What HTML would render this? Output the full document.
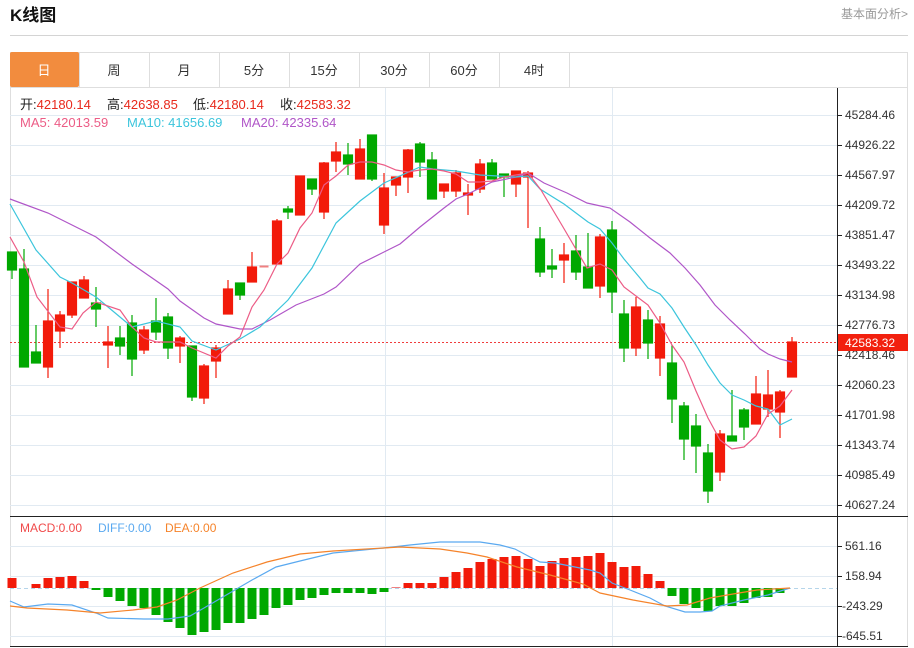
<!DOCTYPE html>
<html><head><meta charset="utf-8"><style>
body{margin:0;background:#fff;width:914px;height:648px;overflow:hidden;font-family:"Liberation Sans","Noto Sans CJK SC",sans-serif}
</style></head><body>
<svg width="914" height="648" xmlns="http://www.w3.org/2000/svg" style="position:absolute;left:0;top:0" font-family="Liberation Sans, Noto Sans CJK SC, sans-serif">
<text x="10" y="21" font-size="17" font-weight="bold" fill="#111">K线图</text>
<text x="908" y="18" font-size="12" fill="#999" text-anchor="end">基本面分析&gt;</text>
<line x1="10" y1="35.5" x2="908" y2="35.5" stroke="#d4d4d4"/>
<rect x="10.5" y="52.5" width="897" height="35" fill="#fff" stroke="#dedede"/>
<rect x="10" y="52" width="69" height="35" fill="#f28c3e" rx="2"/>
<g stroke="#dedede"><line x1="79.5" y1="52" x2="79.5" y2="87"/><line x1="149.5" y1="52" x2="149.5" y2="87"/><line x1="219.5" y1="52" x2="219.5" y2="87"/><line x1="289.5" y1="52" x2="289.5" y2="87"/><line x1="359.5" y1="52" x2="359.5" y2="87"/><line x1="429.5" y1="52" x2="429.5" y2="87"/><line x1="499.5" y1="52" x2="499.5" y2="87"/><line x1="569.5" y1="52" x2="569.5" y2="87"/></g>
<g font-size="13" text-anchor="middle" fill="#333"><text x="44" y="75" fill="#fff">日</text><text x="114" y="75">周</text><text x="184" y="75">月</text><text x="254" y="75">5分</text><text x="324" y="75">15分</text><text x="394" y="75">30分</text><text x="464" y="75">60分</text><text x="534" y="75">4时</text></g>
<line x1="10.5" y1="88" x2="10.5" y2="646" stroke="#dedede"/>
<line x1="907.5" y1="88" x2="907.5" y2="646" stroke="#dedede"/>
<g stroke="#e1eaf2">
<line x1="10" y1="115.5" x2="837" y2="115.5"/><line x1="10" y1="145.5" x2="837" y2="145.5"/><line x1="10" y1="175.5" x2="837" y2="175.5"/><line x1="10" y1="205.5" x2="837" y2="205.5"/><line x1="10" y1="235.5" x2="837" y2="235.5"/><line x1="10" y1="265.5" x2="837" y2="265.5"/><line x1="10" y1="295.5" x2="837" y2="295.5"/><line x1="10" y1="325.5" x2="837" y2="325.5"/><line x1="10" y1="355.5" x2="837" y2="355.5"/><line x1="10" y1="385.5" x2="837" y2="385.5"/><line x1="10" y1="415.5" x2="837" y2="415.5"/><line x1="10" y1="445.5" x2="837" y2="445.5"/><line x1="10" y1="475.5" x2="837" y2="475.5"/><line x1="10" y1="505.5" x2="837" y2="505.5"/>
<line x1="10" y1="546.5" x2="837" y2="546.5"/><line x1="10" y1="576.5" x2="837" y2="576.5"/><line x1="10" y1="606.5" x2="837" y2="606.5"/><line x1="10" y1="636.5" x2="837" y2="636.5"/>
<line x1="385.5" y1="88" x2="385.5" y2="646"/><line x1="612.5" y1="88" x2="612.5" y2="646"/>
</g>
<line x1="837.5" y1="88" x2="837.5" y2="646" stroke="#222"/>
<line x1="10" y1="516.5" x2="908" y2="516.5" stroke="#222"/>
<line x1="10" y1="646.5" x2="908" y2="646.5" stroke="#222"/>
<g font-size="12" fill="#333">
<text x="845" y="119">45284.46</text><text x="845" y="149">44926.22</text><text x="845" y="179">44567.97</text><text x="845" y="209">44209.72</text><text x="845" y="239">43851.47</text><text x="845" y="269">43493.22</text><text x="845" y="299">43134.98</text><text x="845" y="329">42776.73</text><text x="845" y="359">42418.46</text><text x="845" y="389">42060.23</text><text x="845" y="419">41701.98</text><text x="845" y="449">41343.74</text><text x="845" y="479">40985.49</text><text x="845" y="509">40627.24</text>
<text x="845" y="550">561.16</text><text x="845" y="580">158.94</text><text x="842" y="610">-243.29</text><text x="842" y="640">-645.51</text>
</g>
<g stroke="#222"><line x1="837" y1="115.5" x2="842" y2="115.5"/><line x1="837" y1="145.5" x2="842" y2="145.5"/><line x1="837" y1="175.5" x2="842" y2="175.5"/><line x1="837" y1="205.5" x2="842" y2="205.5"/><line x1="837" y1="235.5" x2="842" y2="235.5"/><line x1="837" y1="265.5" x2="842" y2="265.5"/><line x1="837" y1="295.5" x2="842" y2="295.5"/><line x1="837" y1="325.5" x2="842" y2="325.5"/><line x1="837" y1="355.5" x2="842" y2="355.5"/><line x1="837" y1="385.5" x2="842" y2="385.5"/><line x1="837" y1="415.5" x2="842" y2="415.5"/><line x1="837" y1="445.5" x2="842" y2="445.5"/><line x1="837" y1="475.5" x2="842" y2="475.5"/><line x1="837" y1="505.5" x2="842" y2="505.5"/><line x1="837" y1="546.5" x2="842" y2="546.5"/><line x1="837" y1="576.5" x2="842" y2="576.5"/><line x1="837" y1="606.5" x2="842" y2="606.5"/><line x1="837" y1="636.5" x2="842" y2="636.5"/></g>
<g font-size="13">
<text x="20" y="109" fill="#222">开:<tspan fill="#e8291c">42180.14</tspan></text>
<text x="107" y="109" fill="#222">高:<tspan fill="#e8291c">42638.85</tspan></text>
<text x="193" y="109" fill="#222">低:<tspan fill="#e8291c">42180.14</tspan></text>
<text x="280" y="109" fill="#222">收:<tspan fill="#e8291c">42583.32</tspan></text>
<text x="20" y="127" fill="#ec5c86">MA5: 42013.59</text><text x="127" y="127" fill="#3cc5dc">MA10: 41656.69</text><text x="241" y="127" fill="#b056c8">MA20: 42335.64</text>
<text x="20" y="532" font-size="12" fill="#f04a4a">MACD:0.00</text><text x="98" y="532" font-size="12" fill="#5aa9f0">DIFF:0.00</text><text x="165" y="532" font-size="12" fill="#f5832a">DEA:0.00</text>
</g>
<line x1="10" y1="342.5" x2="837" y2="342.5" stroke="#f03c3c" stroke-dasharray="2,2"/>
<rect x="838" y="334" width="70" height="17" fill="#f2200e"/>
<text x="845" y="347" font-size="12" fill="#fff">42583.32</text>
<g stroke-width="1.2">
<g stroke="#00a800" fill="#00a800">
<line x1="12" y1="252" x2="12" y2="279"/><rect x="7.5" y="252" width="9" height="18"/>
<line x1="24" y1="249" x2="24" y2="367"/><rect x="19.5" y="269" width="9" height="98"/>
<line x1="36" y1="325" x2="36" y2="363"/><rect x="31.5" y="352" width="9" height="11"/>
<line x1="96" y1="287" x2="96" y2="327"/><rect x="91.5" y="303" width="9" height="6"/>
<line x1="120" y1="326" x2="120" y2="355"/><rect x="115.5" y="338" width="9" height="8"/>
<line x1="132" y1="315" x2="132" y2="376"/><rect x="127.5" y="323" width="9" height="36"/>
<line x1="156" y1="298" x2="156" y2="340"/><rect x="151.5" y="321" width="9" height="11"/>
<line x1="168" y1="313" x2="168" y2="359"/><rect x="163.5" y="317" width="9" height="31"/>
<line x1="192" y1="346" x2="192" y2="401"/><rect x="187.5" y="346" width="9" height="51"/>
<line x1="240" y1="283" x2="240" y2="300"/><rect x="235.5" y="283" width="9" height="12"/>
<line x1="288" y1="206" x2="288" y2="219"/><rect x="283.5" y="209" width="9" height="3"/>
<line x1="312" y1="179" x2="312" y2="195"/><rect x="307.5" y="179" width="9" height="10"/>
<line x1="348" y1="143" x2="348" y2="175"/><rect x="343.5" y="155" width="9" height="9"/>
<line x1="372" y1="135" x2="372" y2="181"/><rect x="367.5" y="135" width="9" height="44"/>
<line x1="420" y1="142" x2="420" y2="177"/><rect x="415.5" y="144" width="9" height="18"/>
<line x1="432" y1="152" x2="432" y2="199"/><rect x="427.5" y="160" width="9" height="39"/>
<line x1="492" y1="159" x2="492" y2="179"/><rect x="487.5" y="163" width="9" height="16"/>
<line x1="504" y1="174" x2="504" y2="197"/><rect x="499.5" y="174" width="9" height="3"/>
<line x1="540" y1="227" x2="540" y2="277"/><rect x="535.5" y="239" width="9" height="33"/>
<line x1="552" y1="249" x2="552" y2="278"/><rect x="547.5" y="266" width="9" height="3"/>
<line x1="576" y1="235" x2="576" y2="280"/><rect x="571.5" y="251" width="9" height="21"/>
<line x1="588" y1="233" x2="588" y2="288"/><rect x="583.5" y="267" width="9" height="21"/>
<line x1="612" y1="221" x2="612" y2="313"/><rect x="607.5" y="230" width="9" height="62"/>
<line x1="624" y1="300" x2="624" y2="362"/><rect x="619.5" y="314" width="9" height="34"/>
<line x1="648" y1="310" x2="648" y2="359"/><rect x="643.5" y="320" width="9" height="23"/>
<line x1="672" y1="345" x2="672" y2="423"/><rect x="667.5" y="363" width="9" height="36"/>
<line x1="684" y1="402" x2="684" y2="460"/><rect x="679.5" y="406" width="9" height="33"/>
<line x1="696" y1="414" x2="696" y2="473"/><rect x="691.5" y="426" width="9" height="20"/>
<line x1="708" y1="444" x2="708" y2="503"/><rect x="703.5" y="453" width="9" height="38"/>
<line x1="732" y1="390" x2="732" y2="441"/><rect x="727.5" y="436" width="9" height="5"/>
<line x1="744" y1="408" x2="744" y2="440"/><rect x="739.5" y="410" width="9" height="17"/>
</g>
<g stroke="#f21a0a" fill="#f21a0a">
<line x1="48" y1="289" x2="48" y2="378"/><rect x="43.5" y="321" width="9" height="46"/>
<line x1="60" y1="311" x2="60" y2="348"/><rect x="55.5" y="315" width="9" height="16"/>
<line x1="72" y1="282" x2="72" y2="318"/><rect x="67.5" y="282" width="9" height="33"/>
<line x1="84" y1="276" x2="84" y2="298"/><rect x="79.5" y="280" width="9" height="18"/>
<line x1="108" y1="326" x2="108" y2="368"/><rect x="103.5" y="342" width="9" height="3"/>
<line x1="144" y1="326" x2="144" y2="354"/><rect x="139.5" y="330" width="9" height="20"/>
<line x1="180" y1="336" x2="180" y2="363"/><rect x="175.5" y="338" width="9" height="8"/>
<line x1="204" y1="364" x2="204" y2="404"/><rect x="199.5" y="366" width="9" height="32"/>
<line x1="216" y1="345" x2="216" y2="378"/><rect x="211.5" y="348" width="9" height="13"/>
<line x1="228" y1="280" x2="228" y2="314"/><rect x="223.5" y="289" width="9" height="25"/>
<line x1="252" y1="252" x2="252" y2="282"/><rect x="247.5" y="267" width="9" height="15"/>
<line x1="277" y1="219" x2="277" y2="264"/><rect x="272.5" y="221" width="9" height="43"/>
<line x1="300" y1="176" x2="300" y2="215"/><rect x="295.5" y="176" width="9" height="39"/>
<line x1="324" y1="162" x2="324" y2="219"/><rect x="319.5" y="163" width="9" height="49"/>
<line x1="336" y1="142" x2="336" y2="172"/><rect x="331.5" y="152" width="9" height="9"/>
<line x1="360" y1="139" x2="360" y2="179"/><rect x="355.5" y="149" width="9" height="30"/>
<line x1="384" y1="173" x2="384" y2="234"/><rect x="379.5" y="188" width="9" height="37"/>
<line x1="396" y1="177" x2="396" y2="196"/><rect x="391.5" y="177" width="9" height="8"/>
<line x1="408" y1="149" x2="408" y2="193"/><rect x="403.5" y="150" width="9" height="27"/>
<line x1="444" y1="184" x2="444" y2="198"/><rect x="439.5" y="184" width="9" height="7"/>
<line x1="456" y1="170" x2="456" y2="197"/><rect x="451.5" y="173" width="9" height="18"/>
<line x1="468" y1="184" x2="468" y2="215"/><rect x="463.5" y="193" width="9" height="2"/>
<line x1="480" y1="159" x2="480" y2="193"/><rect x="475.5" y="164" width="9" height="25"/>
<line x1="516" y1="171" x2="516" y2="197"/><rect x="511.5" y="171" width="9" height="13"/>
<line x1="528" y1="171" x2="528" y2="228"/><rect x="523.5" y="173" width="9" height="4"/>
<line x1="564" y1="243" x2="564" y2="283"/><rect x="559.5" y="255" width="9" height="5"/>
<line x1="600" y1="234" x2="600" y2="298"/><rect x="595.5" y="237" width="9" height="49"/>
<line x1="636" y1="297" x2="636" y2="356"/><rect x="631.5" y="307" width="9" height="41"/>
<line x1="660" y1="316" x2="660" y2="376"/><rect x="655.5" y="324" width="9" height="34"/>
<line x1="720" y1="430" x2="720" y2="481"/><rect x="715.5" y="434" width="9" height="38"/>
<line x1="756" y1="376" x2="756" y2="424"/><rect x="751.5" y="394" width="9" height="30"/>
<line x1="768" y1="370" x2="768" y2="417"/><rect x="763.5" y="395" width="9" height="14"/>
<line x1="780" y1="390" x2="780" y2="438"/><rect x="775.5" y="392" width="9" height="20"/>
<line x1="792" y1="337" x2="792" y2="377"/><rect x="787.5" y="342" width="9" height="35"/>
</g>
<rect x="259.5" y="265.5" width="9" height="2" fill="#f08080"/>
</g>
<g fill="none" stroke-width="1.2">
<polyline stroke="#b056c8" points="10,199 48,213 96,237 132,264 168,289 180,301 204,318 216,324 240,329 252,329 270,320 296,305 324,294 336,287 360,264 384,252 400,244 420,227 444,208 456,199 468,194 492,182 516,177 528,173 544,183 567,193 587,203 610,208 630,222 650,238 670,253 685,268 700,285 715,305 730,320 745,334 760,349 768,354 780,359 792,362"/>
<polyline stroke="#3cc5dc" points="10,204 36,250 60,277 72,283 96,297 108,307 132,327 156,321 180,327 192,341 216,350 240,339 260,327 288,300 300,284 312,268 336,223 360,201 384,183 420,167 433,169 456,171 480,175 516,177 528,176 540,189 564,204 588,222 600,229 612,243 624,259 640,278 648,288 660,294 672,308 684,327 696,345 708,365 720,383 732,395 744,400 756,406 768,409 780,425 792,419"/>
<polyline stroke="#ec5c86" points="10,237 24,262 37,297 60,327 72,329 83,313 96,302 120,310 132,327 144,338 156,342 180,342 192,348 216,358 228,346 240,337 252,307 264,290 277,264 288,253 300,228 312,213 324,185 336,176 348,165 360,162 372,162 384,165 396,170 408,172 420,170 432,169 444,171 456,174 468,182 480,182 492,181 504,177 516,175 528,173 541,190 563,227 587,268 600,264 612,270 624,287 636,296 648,305 660,323 672,345 684,362 696,391 708,418 720,440 732,449 744,447 756,436 768,414 780,406 792,390"/>
</g>
<line x1="10" y1="588.5" x2="837" y2="588.5" stroke="#b5d5ea" stroke-dasharray="4,3"/>
<g fill="#f21a0a">
<rect x="7.5" y="578" width="9" height="10"/><rect x="31.5" y="584" width="9" height="4"/><rect x="43.5" y="578" width="9" height="10"/><rect x="55.5" y="577" width="9" height="11"/><rect x="67.5" y="576" width="9" height="12"/><rect x="79.5" y="581" width="9" height="7"/>
<rect x="391.5" y="587" width="9" height="1" fill="#f08080"/>
<rect x="403.5" y="583" width="9" height="5"/><rect x="415.5" y="583" width="9" height="5"/><rect x="427.5" y="583" width="9" height="5"/><rect x="439.5" y="577" width="9" height="11"/><rect x="451.5" y="572" width="9" height="16"/><rect x="463.5" y="568" width="9" height="20"/><rect x="475.5" y="562" width="9" height="26"/><rect x="487.5" y="559" width="9" height="29"/><rect x="499.5" y="557" width="9" height="31"/><rect x="511.5" y="556" width="9" height="32"/><rect x="523.5" y="559" width="9" height="29"/><rect x="535.5" y="566" width="9" height="22"/><rect x="547.5" y="561" width="9" height="27"/><rect x="559.5" y="558" width="9" height="30"/><rect x="571.5" y="557" width="9" height="31"/><rect x="583.5" y="556" width="9" height="32"/><rect x="595.5" y="553" width="9" height="35"/><rect x="607.5" y="562" width="9" height="26"/><rect x="619.5" y="567" width="9" height="21"/><rect x="631.5" y="566" width="9" height="22"/><rect x="643.5" y="574" width="9" height="14"/><rect x="655.5" y="581" width="9" height="7"/>
</g>
<g fill="#00a800">
<rect x="91.5" y="588" width="9" height="2"/><rect x="103.5" y="588" width="9" height="9"/><rect x="115.5" y="588" width="9" height="13"/><rect x="127.5" y="588" width="9" height="18"/><rect x="139.5" y="588" width="9" height="20"/><rect x="151.5" y="588" width="9" height="27"/><rect x="163.5" y="588" width="9" height="34"/><rect x="175.5" y="588" width="9" height="40"/><rect x="187.5" y="588" width="9" height="47"/><rect x="199.5" y="588" width="9" height="44"/><rect x="211.5" y="588" width="9" height="42"/><rect x="223.5" y="588" width="9" height="35"/><rect x="235.5" y="588" width="9" height="35"/><rect x="247.5" y="588" width="9" height="31"/><rect x="259.5" y="588" width="9" height="27"/><rect x="271.5" y="588" width="9" height="20"/><rect x="283.5" y="588" width="9" height="17"/><rect x="295.5" y="588" width="9" height="12"/><rect x="307.5" y="588" width="9" height="10"/><rect x="319.5" y="588" width="9" height="7"/><rect x="331.5" y="588" width="9" height="5"/><rect x="343.5" y="588" width="9" height="5"/><rect x="355.5" y="588" width="9" height="5"/><rect x="367.5" y="588" width="9" height="6"/><rect x="379.5" y="588" width="9" height="4"/>
<rect x="667.5" y="588" width="9" height="8"/><rect x="679.5" y="588" width="9" height="16"/><rect x="691.5" y="588" width="9" height="20"/><rect x="703.5" y="588" width="9" height="23"/><rect x="715.5" y="588" width="9" height="18"/><rect x="727.5" y="588" width="9" height="18"/><rect x="739.5" y="588" width="9" height="15"/><rect x="751.5" y="588" width="9" height="10"/><rect x="763.5" y="588" width="9" height="9"/><rect x="775.5" y="588" width="9" height="5"/>
</g>
<g fill="none" stroke-width="1.2">
<polyline stroke="#5aa9f0" points="10,601 24,607 48,604 72,605 96,613 108,618 144,619 168,619 190,616 204,608 228,594 252,580 276,567 300,561 333,553 384,548 410,545 440,542 480,542 500,545 515,549 530,557 540,562 555,563 590,570 600,573 612,583 630,590 650,598 665,606 685,612 700,612 712,611 720,606 744,600 768,595 790,588"/>
<polyline stroke="#f5832a" points="10,606 27,608 67,610 100,613 133,610 157,607 177,600 200,588 233,573 267,562 300,554 333,551 400,547 440,549 467,553 487,557 517,567 550,575 583,584 600,593 633,600 667,606 687,605 710,598 733,594 757,590 790,588"/>
</g>
</svg>
</body></html>
